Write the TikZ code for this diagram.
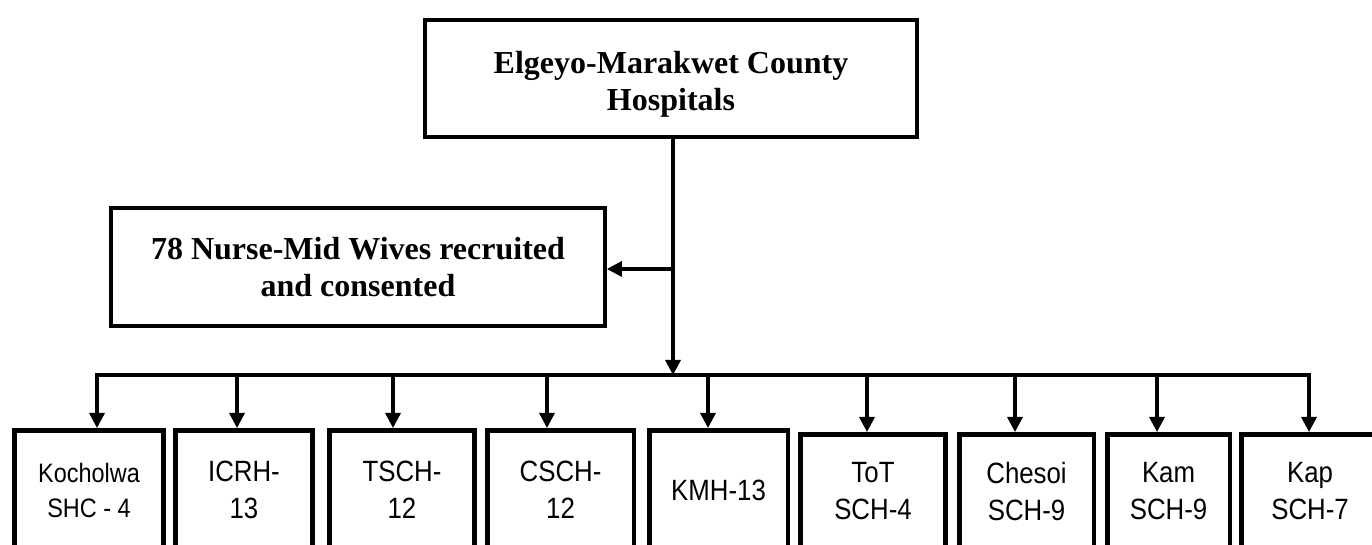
\documentclass[tikz,border=0pt]{standalone}
\usepackage{fontspec}
\setmainfont{Liberation Serif}
\newfontfamily\narrowsans[FakeStretch=0.88]{Liberation Sans}
\usetikzlibrary{arrows.meta}
\begin{document}
\begin{tikzpicture}[x=0.75pt,y=-0.75pt,
  mytri/.tip={Triangle[length=11.25pt,width=11.25pt]},
  conn/.style={line width=2.5pt},
  arr/.style={conn,-mytri},
  bigbox/.style={draw, line width=2.8pt, inner sep=0pt, align=center,
    font=\bfseries\fontsize{24pt}{27.75pt}\selectfont},
  smallbox/.style={draw, line width=3.4pt, inner sep=0pt, align=center, anchor=north west,
    font=\narrowsans\fontsize{22pt}{27.75pt}\selectfont},
  rowa/.style={smallbox, minimum height=89.6pt},
  rowb/.style={smallbox, minimum height=85.9pt}]
\useasboundingbox (0,0) rectangle (1372,545);
\clip (0,0) rectangle (1372,545);

% top box
\node[bigbox, minimum width=369pt, minimum height=87.75pt] (top) at (671,78.5) {};
\node[inner sep=0pt, align=center, font=\bfseries\fontsize{24pt}{27.75pt}\selectfont] (toptext) at (671,84)
  {Elgeyo-Marakwet County\\Hospitals};

% middle box
\node[bigbox, minimum width=370.5pt, minimum height=88.5pt] (mid) at (358,267)
  {78 Nurse-Mid Wives recruited\\and consented};

% bottom boxes
\node[rowa, minimum width=112.1pt, font=\narrowsans\fontsize{20pt}{26.25pt}\selectfont] (b1) at (12,428) {Kocholwa\\SHC - 4};
\node[rowa, minimum width=103.1pt] (b2) at (173,428) {ICRH-\\13};
\node[rowa, minimum width=109.1pt] (b3) at (327,428) {TSCH-\\12};
\node[rowa, minimum width=109.9pt] (b4) at (485,428) {CSCH-\\12};
\node[rowa, minimum width=103.9pt] (b5) at (647,428) {KMH-13};
\node[rowb, minimum width=109.1pt] (b6) at (798,432) {ToT\\SCH-4};
\node[rowb, minimum width=100.9pt] (b7) at (957,432) {Chesoi\\SCH-9};
\node[rowb, minimum width=91.9pt] (b8) at (1105,432) {Kam\\SCH-9};
\node[rowb, minimum width=103.1pt] (b9) at (1239,432) {Kap\\SCH-7};

% connector points
\coordinate (drop) at (673,375);
\coordinate (branch) at (673,269);
\coordinate (s1) at (97,375);
\coordinate (s2) at (237,375);
\coordinate (s3) at (393,375);
\coordinate (s4) at (547,375);
\coordinate (s5) at (708,375);
\coordinate (s6) at (867,375);
\coordinate (s7) at (1015,375);
\coordinate (s8) at (1157,375);
\coordinate (s9) at (1309,375);

% connectors
\draw[arr] (top.south -| drop) -- (drop);
\draw[arr] (branch) -- (branch -| mid.east);
\draw[conn, mytri-mytri] (s1 |- b1.north) -- (s1) -- (s9) -- (s9 |- b9.north);
\draw[arr] (s2) -- (s2 |- b2.north);
\draw[arr] (s3) -- (s3 |- b3.north);
\draw[arr] (s4) -- (s4 |- b4.north);
\draw[arr] (s5) -- (s5 |- b5.north);
\draw[arr] (s6) -- (s6 |- b6.north);
\draw[arr] (s7) -- (s7 |- b7.north);
\draw[arr] (s8) -- (s8 |- b8.north);
\end{tikzpicture}
\end{document}
